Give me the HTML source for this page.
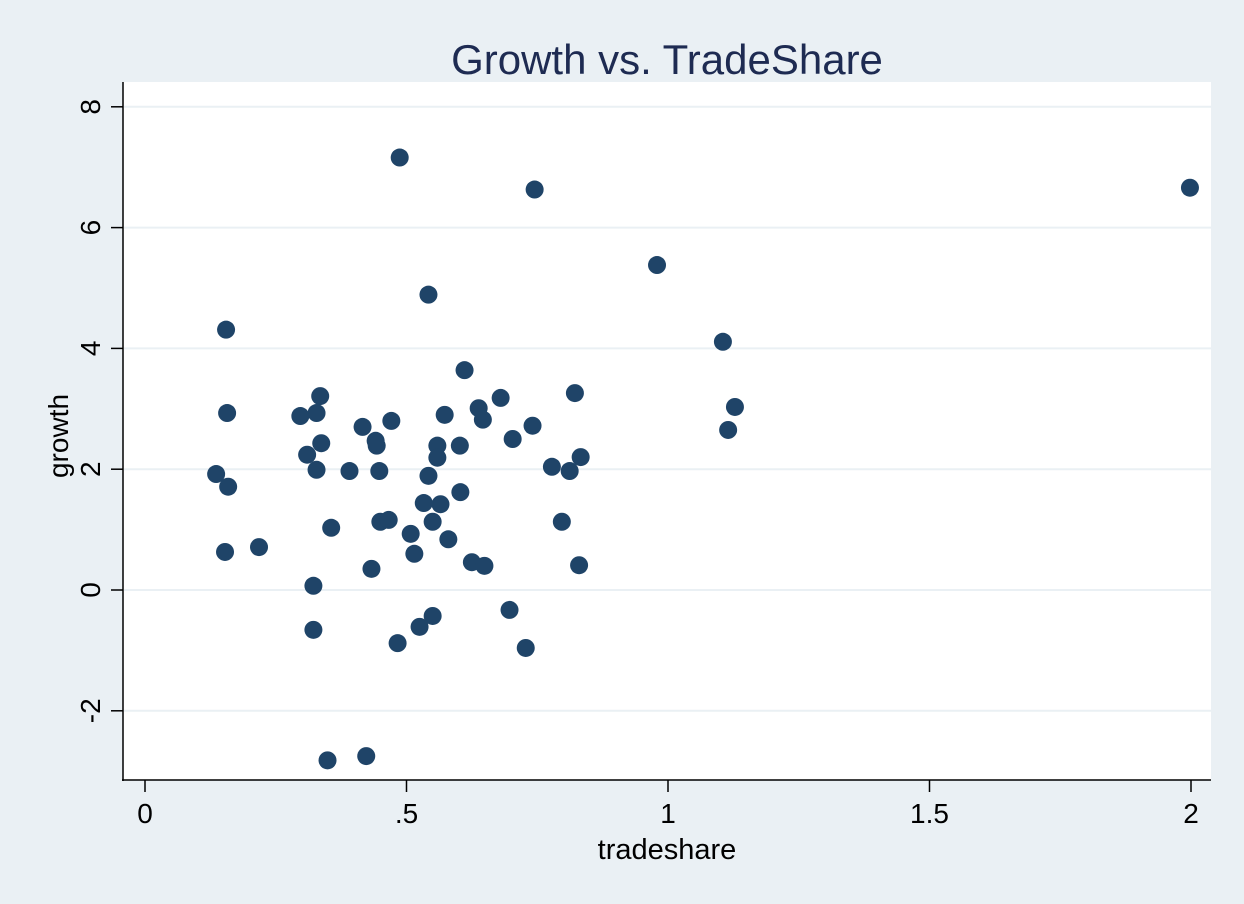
<!DOCTYPE html>
<html><head><meta charset="utf-8"><style>
body{margin:0;background:#eaf0f4;}
svg{display:block;font-family:"Liberation Sans",sans-serif;}
</style></head><body>
<svg id="chart" width="1244" height="904">
<rect x="0" y="0" width="1244" height="904" fill="#eaf0f4"/>
<rect x="123" y="82" width="1088" height="698" fill="#ffffff"/>
<text x="667" y="74" text-anchor="middle" font-size="42" fill="#1e2b52">Growth vs. TradeShare</text>
<g id="grid"></g>
<g id="pts"></g>
<g id="axes"></g>
<text x="667" y="859" text-anchor="middle" font-size="29" fill="#000">tradeshare</text>
<text transform="translate(68,436) rotate(-90)" text-anchor="middle" font-size="28" fill="#000">growth</text>
</svg>
<script>
const tradeshare=[.487,.745,1.998,.979,.542,.155,1.105,.611,1.128,1.115,.157,.335,.297,.328,.822,.680,.573,.638,.646,.471,.416,.741,.703,.337,.441,.443,.559,.602,.310,.559,.833,.778,.812,.136,.328,.391,.448,.542,.159,.603,.533,.565,.450,.466,.550,.797,.356,.508,.580,.153,.218,.515,.625,.649,.830,.433,.322,.697,.550,.525,.322,.483,.728,.423,.349];
const growth=[7.16,6.63,6.66,5.38,4.89,4.31,4.11,3.64,3.03,2.65,2.93,3.21,2.88,2.93,3.26,3.18,2.90,3.01,2.82,2.80,2.70,2.72,2.50,2.43,2.47,2.39,2.39,2.39,2.24,2.19,2.20,2.04,1.97,1.92,1.99,1.97,1.97,1.89,1.71,1.62,1.44,1.42,1.13,1.16,1.13,1.13,1.03,.93,.84,.63,.71,.60,.46,.40,.41,.35,.07,-.33,-.43,-.61,-.66,-.88,-.96,-2.75,-2.82];
const xTicks=[0,.5,1,1.5,2];
const xTickLabels=["0",".5","1","1.5","2"];
const yTicks=[-2,0,2,4,6,8];
const yTickLabels=["-2","0","2","4","6","8"];
const NS="http://www.w3.org/2000/svg";
const X=v=>145+v*523;
const Y=v=>590-v*60.4;
function mk(tag,attrs,parent){const e=document.createElementNS(NS,tag);for(const k in attrs)e.setAttribute(k,attrs[k]);parent.appendChild(e);return e;}
const grid=document.getElementById('grid'),pts=document.getElementById('pts'),axes=document.getElementById('axes');
yTicks.forEach((t,i)=>{
 const g=mk('line',{x1:124,x2:1211,y1:Y(t),y2:Y(t),stroke:'#eaf0f4','stroke-width':2},grid);
 
 
 const tk=mk('line',{x1:111,x2:123,y1:Y(t),y2:Y(t),stroke:'#000','stroke-width':1.5},axes);
 
 
 const tx=mk('text',{transform:`translate(100,${Y(t)}) rotate(-90)`,'text-anchor':'middle','font-size':28,fill:'#000'},axes);
 tx.textContent=yTickLabels[i];
 
 
});
xTicks.forEach((t,i)=>{
 const tk=mk('line',{x1:X(t),x2:X(t),y1:780,y2:792,stroke:'#000','stroke-width':1.5},axes);
 
 
 const tx=mk('text',{x:X(t),y:823,'text-anchor':'middle','font-size':28,fill:'#000'},axes);
 tx.textContent=xTickLabels[i];
 
 
});
const ya=mk('line',{x1:123,x2:123,y1:82,y2:781,stroke:'#000','stroke-width':1.5},axes);


const xa=mk('line',{x1:122,x2:1211,y1:780,y2:780,stroke:'#000','stroke-width':1.5},axes);


tradeshare.forEach((v,i)=>{
 const c=mk('circle',{cx:X(v),cy:Y(growth[i]),r:9,fill:'#1f4468'},pts);
 
 
});
</script>
</body></html>
